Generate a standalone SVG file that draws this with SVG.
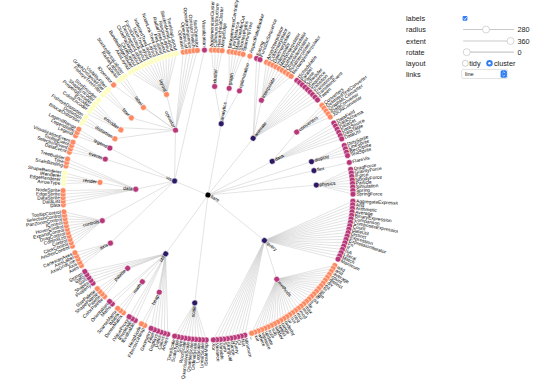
<svg xmlns="http://www.w3.org/2000/svg" xmlns:xlink="http://www.w3.org/1999/xlink" width="540" height="385" viewBox="0 0 540 385">
<style>
text{font-family:"Liberation Sans",Arial,Helvetica,sans-serif}
#nodes text{font-size:4.8px;dominant-baseline:central;fill:#000}
#nodes circle{stroke:#fff;stroke-width:0.5}
.d0{fill:#000004}.d1{fill:#2c1a66}.d2{fill:#b73779}.d3{fill:#fc8961}.d4{fill:#fcfdbf}
#links path,#links use{stroke:#ccc;stroke-width:0.5;fill:none}
.e{text-anchor:end}
#controls text{font-size:7.3px;fill:#222}
</style>
<defs>
<clipPath id="clip"><rect x="0" y="0" width="398" height="385"/></clipPath>
<path id="r1" d="M0 0H36.25"/>
<path id="r2" d="M0 0H72.5"/>
<path id="r3" d="M0 0H108.75"/>
<path id="p1" d="M108.75 0H145"/>
<path id="p2" d="M108.75 0L144.99-1.77M108.75 0L144.99 1.77"/>
<path id="p3" d="M108.75 0L144.96-3.54M108.75 0H145M108.75 0L144.96 3.54"/>
<path id="p4" d="M108.75 0L144.9-5.32M108.75 0L144.99-1.77M108.75 0L144.99 1.77M108.75 0L144.9 5.32"/>
<path id="p5" d="M108.75 0L144.83-7.09M108.75 0L144.96-3.54M108.75 0H145M108.75 0L144.96 3.54M108.75 0L144.83 7.09"/>
</defs>
<rect width="540" height="385" fill="#fff"/>
<g clip-path="url(#clip)">
<g transform="translate(208,195)">
<g id="links">
<use xlink:href="#r2" transform="rotate(-79.49)"/>
<use xlink:href="#r2" transform="rotate(-51.48)"/>
<use xlink:href="#r2" transform="rotate(-27.67)"/>
<use xlink:href="#r3" transform="rotate(-17.86)"/>
<use xlink:href="#r3" transform="rotate(-12.96)"/>
<use xlink:href="#r3" transform="rotate(-5.25)"/>
<use xlink:href="#r2" transform="rotate(38.87)"/>
<use xlink:href="#r3" transform="rotate(97)"/>
<use xlink:href="#r2" transform="rotate(125.72)"/>
<use xlink:href="#r1" transform="rotate(202.76)"/>
<path transform="rotate(-79.49)" d="M72.5 0L107.94-13.26M72.5 0L108.74 1.33M72.5 0L108.09 11.94"/>
<use xlink:href="#p4" transform="rotate(-86.5)"/>
<use xlink:href="#p5" transform="rotate(-78.79)"/>
<use xlink:href="#p1" transform="rotate(-73.19)"/>
<path transform="rotate(-51.48)" d="M72.5 0L137.17-46.99M72.5 0L138.28-43.62M72.5 0L107.38-17.21M72.5 0L144.99-1.77M72.5 0L144.99 1.77M72.5 0L144.9 5.32M72.5 0L144.73 8.86M72.5 0L144.47 12.39M72.5 0L144.12 15.92M72.5 0L143.69 19.44M72.5 0L143.17 22.95M72.5 0L142.57 26.44"/>
<path transform="rotate(-60.58)" d="M108.75 0L144.31-14.16M108.75 0L144.61-10.63M108.75 0L144.83-7.09M108.75 0L144.96-3.54M108.75 0H145M108.75 0L144.96 3.54M108.75 0L144.83 7.09M108.75 0L144.61 10.63M108.75 0L144.31 14.16"/>
<path transform="rotate(-27.67)" d="M72.5 0L107.77-14.58M72.5 0L144.9-5.32M72.5 0L144.99-1.77M72.5 0L144.99 1.77M72.5 0L144.9 5.32M72.5 0L144.73 8.86M72.5 0L144.47 12.39"/>
<use xlink:href="#p5" transform="rotate(-35.37)"/>
<use xlink:href="#p4" transform="rotate(-17.86)"/>
<use xlink:href="#p1" transform="rotate(-12.96)"/>
<path transform="rotate(-5.25)" d="M108.75 0L144.47-12.39M108.75 0L144.73-8.86M108.75 0L144.9-5.32M108.75 0L144.99-1.77M108.75 0L144.99 1.77M108.75 0L144.9 5.32M108.75 0L144.73 8.86M108.75 0L144.47 12.39"/>
<path transform="rotate(38.87)" d="M72.5 0L116.68-86.09M72.5 0L118.75-83.21M72.5 0L120.75-80.28M72.5 0L122.67-77.31M72.5 0L124.53-74.28M72.5 0L126.31-71.22M72.5 0L128.01-68.11M72.5 0L129.64-64.96M72.5 0L131.18-61.77M72.5 0L132.66-58.54M72.5 0L134.05-55.28M72.5 0L135.36-51.99M72.5 0L136.59-48.67M72.5 0L137.74-45.31M72.5 0L138.81-41.93M72.5 0L139.79-38.53M72.5 0L140.69-35.1M72.5 0L141.5-31.65M72.5 0L106.41 22.44M72.5 0L116.68 86.09M72.5 0L114.54 88.91M72.5 0L112.33 91.69M72.5 0L110.06 94.41M72.5 0L107.72 97.07M72.5 0L105.31 99.67M72.5 0L102.84 102.22M72.5 0L100.31 104.7M72.5 0L97.72 107.12M72.5 0L95.08 109.48"/>
<path transform="rotate(50.78)" d="M108.75 0L134.71-53.64M108.75 0L135.98-50.33M108.75 0L137.17-46.99M108.75 0L138.28-43.63M108.75 0L139.31-40.23M108.75 0L140.25-36.82M108.75 0L141.11-33.38M108.75 0L141.88-29.92M108.75 0L142.57-26.44M108.75 0L143.17-22.95M108.75 0L143.69-19.44M108.75 0L144.12-15.92M108.75 0L144.47-12.39M108.75 0L144.73-8.86M108.75 0L144.9-5.32M108.75 0L144.99-1.77M108.75 0L144.99 1.77M108.75 0L144.9 5.32M108.75 0L144.73 8.86M108.75 0L144.47 12.39M108.75 0L144.12 15.92M108.75 0L143.69 19.44M108.75 0L143.17 22.95M108.75 0L142.57 26.44M108.75 0L141.88 29.92M108.75 0L141.11 33.38M108.75 0L140.25 36.82M108.75 0L139.31 40.23M108.75 0L138.28 43.63M108.75 0L137.17 46.99M108.75 0L135.98 50.33M108.75 0L134.71 53.64"/>
<path transform="rotate(97)" d="M108.75 0L144.12-15.92M108.75 0L144.47-12.39M108.75 0L144.73-8.86M108.75 0L144.9-5.32M108.75 0L144.99-1.77M108.75 0L144.99 1.77M108.75 0L144.9 5.32M108.75 0L144.73 8.86M108.75 0L144.47 12.39M108.75 0L144.12 15.92"/>
<path transform="rotate(125.72)" d="M72.5 0L136.59-48.67M72.5 0L137.74-45.31M72.5 0L138.81-41.93M72.5 0L139.79-38.53M72.5 0L140.69-35.1M72.5 0L141.5-31.65M72.5 0L107.38-17.21M72.5 0L144.31-14.16M72.5 0L144.61-10.63M72.5 0L144.83-7.09M72.5 0L108.72 2.66M72.5 0L144.31 14.16M72.5 0L143.92 17.68M72.5 0L106.41 22.44M72.5 0L138.81 41.93M72.5 0L137.74 45.31M72.5 0L136.59 48.67M72.5 0L135.36 51.99M72.5 0L134.05 55.28"/>
<use xlink:href="#p2" transform="rotate(116.61)"/>
<use xlink:href="#p3" transform="rotate(127.12)"/>
<use xlink:href="#p4" transform="rotate(137.63)"/>
<path transform="rotate(202.76)" d="M36.25 0L71.31-82.11M36.25 0L87.51-64.57M36.25 0L68.87-22.66M36.25 0L108.55-6.64M36.25 0L108.62 5.32M36.25 0L55.03 47.2M36.25 0L59.35 132.3"/>
<use xlink:href="#p5" transform="rotate(153.74)"/>
<path transform="rotate(166.34)" d="M108.75 0L143.92-17.68M108.75 0L144.31-14.16M108.75 0L144.61-10.63M108.75 0L144.83-7.09M108.75 0L144.96-3.54M108.75 0H145M108.75 0L144.96 3.54M108.75 0L144.83 7.09M108.75 0L144.61 10.63M108.75 0L144.31 14.16M108.75 0L143.92 17.68"/>
<path transform="rotate(184.55)" d="M72.5 0L143.44-21.19M72.5 0L143.92-17.68M72.5 0L144.31-14.16M72.5 0L144.61-10.63M72.5 0L144.83-7.09M72.5 0L108.68 3.99M72.5 0L143.92 17.68M72.5 0L143.44 21.19M72.5 0L142.88 24.69"/>
<use xlink:href="#p4" transform="rotate(186.65)"/>
<use xlink:href="#p4" transform="rotate(199.26)"/>
<use xlink:href="#p3" transform="rotate(205.56)"/>
<path transform="rotate(243.39)" d="M72.5 0L92.01-57.98M72.5 0L98.39-46.33M72.5 0L103.3-33.98M72.5 0L140.69-35.1M72.5 0L107.16-18.52M72.5 0L108.46 7.97M72.5 0L138.81 41.93M72.5 0L137.74 45.31M72.5 0L136.59 48.67M72.5 0L135.36 51.99M72.5 0L134.05 55.28"/>
<use xlink:href="#p3" transform="rotate(211.17)"/>
<use xlink:href="#p5" transform="rotate(216.77)"/>
<use xlink:href="#p3" transform="rotate(225.18)"/>
<use xlink:href="#p3" transform="rotate(233.58)"/>
<path transform="rotate(247.59)" d="M108.75 0L142.88-24.69M108.75 0L143.44-21.19M108.75 0L143.92-17.68M108.75 0L144.31-14.16M108.75 0L144.61-10.63M108.75 0L144.83-7.09M108.75 0L144.96-3.54M108.75 0H145M108.75 0L144.96 3.54M108.75 0L144.83 7.09M108.75 0L144.61 10.63M108.75 0L144.31 14.16M108.75 0L143.92 17.68M108.75 0L143.44 21.19M108.75 0L142.88 24.69"/>
</g>
<g id="nodes">
<g id="n-flare" transform="rotate(27.02)"><circle class="d0" r="2.9"/><text x="3.2">flare</text></g>
<g id="n-analytics" transform="rotate(-79.49)"><circle class="d1" cx="72.5" r="2.9"/><text x="75.7">analytics</text></g>
<g id="n-cluster" transform="rotate(-86.5)"><circle class="d2" cx="108.75" r="2.9"/><text x="111.95">cluster</text></g>
<g id="n-AgglomerativeCluster" transform="rotate(-88.6)"><circle class="d3" cx="145" r="2.9"/><text x="148.2">AgglomerativeCluster</text></g>
<g id="n-CommunityStructure" transform="rotate(-87.2)"><circle class="d3" cx="145" r="2.9"/><text x="148.2">CommunityStructure</text></g>
<g id="n-HierarchicalCluster" transform="rotate(-85.8)"><circle class="d3" cx="145" r="2.9"/><text x="148.2">HierarchicalCluster</text></g>
<g id="n-MergeEdge" transform="rotate(-84.4)"><circle class="d3" cx="145" r="2.9"/><text x="148.2">MergeEdge</text></g>
<g id="n-graph" transform="rotate(-78.79)"><circle class="d2" cx="108.75" r="2.9"/><text x="111.95">graph</text></g>
<g id="n-BetweennessCentrality" transform="rotate(-81.6)"><circle class="d3" cx="145" r="2.9"/><text x="148.2">BetweennessCentrality</text></g>
<g id="n-LinkDistance" transform="rotate(-80.19)"><circle class="d3" cx="145" r="2.9"/><text x="148.2">LinkDistance</text></g>
<g id="n-MaxFlowMinCut" transform="rotate(-78.79)"><circle class="d3" cx="145" r="2.9"/><text x="148.2">MaxFlowMinCut</text></g>
<g id="n-ShortestPaths" transform="rotate(-77.39)"><circle class="d3" cx="145" r="2.9"/><text x="148.2">ShortestPaths</text></g>
<g id="n-SpanningTree" transform="rotate(-75.99)"><circle class="d3" cx="145" r="2.9"/><text x="148.2">SpanningTree</text></g>
<g id="n-optimization" transform="rotate(-73.19)"><circle class="d2" cx="108.75" r="2.9"/><text x="111.95">optimization</text></g>
<g id="n-AspectRatioBanker" transform="rotate(-73.19)"><circle class="d3" cx="145" r="2.9"/><text x="148.2">AspectRatioBanker</text></g>
<g id="n-animate" transform="rotate(-51.48)"><circle class="d1" cx="72.5" r="2.9"/><text x="75.7">animate</text></g>
<g id="n-Easing" transform="rotate(-70.39)"><circle class="d2" cx="145" r="2.9"/><text x="148.2">Easing</text></g>
<g id="n-FunctionSequence" transform="rotate(-68.99)"><circle class="d2" cx="145" r="2.9"/><text x="148.2">FunctionSequence</text></g>
<g id="n-interpolate" transform="rotate(-60.58)"><circle class="d2" cx="108.75" r="2.9"/><text x="111.95">interpolate</text></g>
<g id="n-ArrayInterpolator" transform="rotate(-66.19)"><circle class="d3" cx="145" r="2.9"/><text x="148.2">ArrayInterpolator</text></g>
<g id="n-ColorInterpolator" transform="rotate(-64.79)"><circle class="d3" cx="145" r="2.9"/><text x="148.2">ColorInterpolator</text></g>
<g id="n-DateInterpolator" transform="rotate(-63.39)"><circle class="d3" cx="145" r="2.9"/><text x="148.2">DateInterpolator</text></g>
<g id="n-Interpolator" transform="rotate(-61.98)"><circle class="d3" cx="145" r="2.9"/><text x="148.2">Interpolator</text></g>
<g id="n-MatrixInterpolator" transform="rotate(-60.58)"><circle class="d3" cx="145" r="2.9"/><text x="148.2">MatrixInterpolator</text></g>
<g id="n-NumberInterpolator" transform="rotate(-59.18)"><circle class="d3" cx="145" r="2.9"/><text x="148.2">NumberInterpolator</text></g>
<g id="n-ObjectInterpolator" transform="rotate(-57.78)"><circle class="d3" cx="145" r="2.9"/><text x="148.2">ObjectInterpolator</text></g>
<g id="n-PointInterpolator" transform="rotate(-56.38)"><circle class="d3" cx="145" r="2.9"/><text x="148.2">PointInterpolator</text></g>
<g id="n-RectangleInterpolator" transform="rotate(-54.98)"><circle class="d3" cx="145" r="2.9"/><text x="148.2">RectangleInterpolator</text></g>
<g id="n-ISchedulable" transform="rotate(-52.18)"><circle class="d2" cx="145" r="2.9"/><text x="148.2">ISchedulable</text></g>
<g id="n-Parallel" transform="rotate(-50.78)"><circle class="d2" cx="145" r="2.9"/><text x="148.2">Parallel</text></g>
<g id="n-Pause" transform="rotate(-49.38)"><circle class="d2" cx="145" r="2.9"/><text x="148.2">Pause</text></g>
<g id="n-Scheduler" transform="rotate(-47.98)"><circle class="d2" cx="145" r="2.9"/><text x="148.2">Scheduler</text></g>
<g id="n-Sequence" transform="rotate(-46.58)"><circle class="d2" cx="145" r="2.9"/><text x="148.2">Sequence</text></g>
<g id="n-Transition" transform="rotate(-45.18)"><circle class="d2" cx="145" r="2.9"/><text x="148.2">Transition</text></g>
<g id="n-Transitioner" transform="rotate(-43.77)"><circle class="d2" cx="145" r="2.9"/><text x="148.2">Transitioner</text></g>
<g id="n-TransitionEvent" transform="rotate(-42.37)"><circle class="d2" cx="145" r="2.9"/><text x="148.2">TransitionEvent</text></g>
<g id="n-Tween" transform="rotate(-40.97)"><circle class="d2" cx="145" r="2.9"/><text x="148.2">Tween</text></g>
<g id="n-data" transform="rotate(-27.67)"><circle class="d1" cx="72.5" r="2.9"/><text x="75.7">data</text></g>
<g id="n-converters" transform="rotate(-35.37)"><circle class="d2" cx="108.75" r="2.9"/><text x="111.95">converters</text></g>
<g id="n-Converters" transform="rotate(-38.17)"><circle class="d3" cx="145" r="2.9"/><text x="148.2">Converters</text></g>
<g id="n-DelimitedTextConverter" transform="rotate(-36.77)"><circle class="d3" cx="145" r="2.9"/><text x="148.2">DelimitedTextConverter</text></g>
<g id="n-GraphMLConverter" transform="rotate(-35.37)"><circle class="d3" cx="145" r="2.9"/><text x="148.2">GraphMLConverter</text></g>
<g id="n-IDataConverter" transform="rotate(-33.97)"><circle class="d3" cx="145" r="2.9"/><text x="148.2">IDataConverter</text></g>
<g id="n-JSONConverter" transform="rotate(-32.57)"><circle class="d3" cx="145" r="2.9"/><text x="148.2">JSONConverter</text></g>
<g id="n-DataField" transform="rotate(-29.77)"><circle class="d2" cx="145" r="2.9"/><text x="148.2">DataField</text></g>
<g id="n-DataSchema" transform="rotate(-28.37)"><circle class="d2" cx="145" r="2.9"/><text x="148.2">DataSchema</text></g>
<g id="n-DataSet" transform="rotate(-26.96)"><circle class="d2" cx="145" r="2.9"/><text x="148.2">DataSet</text></g>
<g id="n-DataSource" transform="rotate(-25.56)"><circle class="d2" cx="145" r="2.9"/><text x="148.2">DataSource</text></g>
<g id="n-DataTable" transform="rotate(-24.16)"><circle class="d2" cx="145" r="2.9"/><text x="148.2">DataTable</text></g>
<g id="n-DataUtil" transform="rotate(-22.76)"><circle class="d2" cx="145" r="2.9"/><text x="148.2">DataUtil</text></g>
<g id="n-display" transform="rotate(-17.86)"><circle class="d1" cx="108.75" r="2.9"/><text x="111.95">display</text></g>
<g id="n-DirtySprite" transform="rotate(-19.96)"><circle class="d2" cx="145" r="2.9"/><text x="148.2">DirtySprite</text></g>
<g id="n-LineSprite" transform="rotate(-18.56)"><circle class="d2" cx="145" r="2.9"/><text x="148.2">LineSprite</text></g>
<g id="n-RectSprite" transform="rotate(-17.16)"><circle class="d2" cx="145" r="2.9"/><text x="148.2">RectSprite</text></g>
<g id="n-TextSprite" transform="rotate(-15.76)"><circle class="d2" cx="145" r="2.9"/><text x="148.2">TextSprite</text></g>
<g id="n-flex" transform="rotate(-12.96)"><circle class="d1" cx="108.75" r="2.9"/><text x="111.95">flex</text></g>
<g id="n-FlareVis" transform="rotate(-12.96)"><circle class="d2" cx="145" r="2.9"/><text x="148.2">FlareVis</text></g>
<g id="n-physics" transform="rotate(-5.25)"><circle class="d1" cx="108.75" r="2.9"/><text x="111.95">physics</text></g>
<g id="n-DragForce" transform="rotate(-10.16)"><circle class="d2" cx="145" r="2.9"/><text x="148.2">DragForce</text></g>
<g id="n-GravityForce" transform="rotate(-8.75)"><circle class="d2" cx="145" r="2.9"/><text x="148.2">GravityForce</text></g>
<g id="n-IForce" transform="rotate(-7.35)"><circle class="d2" cx="145" r="2.9"/><text x="148.2">IForce</text></g>
<g id="n-NBodyForce" transform="rotate(-5.95)"><circle class="d2" cx="145" r="2.9"/><text x="148.2">NBodyForce</text></g>
<g id="n-Particle" transform="rotate(-4.55)"><circle class="d2" cx="145" r="2.9"/><text x="148.2">Particle</text></g>
<g id="n-Simulation" transform="rotate(-3.15)"><circle class="d2" cx="145" r="2.9"/><text x="148.2">Simulation</text></g>
<g id="n-Spring" transform="rotate(-1.75)"><circle class="d2" cx="145" r="2.9"/><text x="148.2">Spring</text></g>
<g id="n-SpringForce" transform="rotate(-0.35)"><circle class="d2" cx="145" r="2.9"/><text x="148.2">SpringForce</text></g>
<g id="n-query" transform="rotate(38.87)"><circle class="d1" cx="72.5" r="2.9"/><text x="75.7">query</text></g>
<g id="n-AggregateExpression" transform="rotate(2.45)"><circle class="d2" cx="145" r="2.9"/><text x="148.2">AggregateExpression</text></g>
<g id="n-And" transform="rotate(3.85)"><circle class="d2" cx="145" r="2.9"/><text x="148.2">And</text></g>
<g id="n-Arithmetic" transform="rotate(5.25)"><circle class="d2" cx="145" r="2.9"/><text x="148.2">Arithmetic</text></g>
<g id="n-Average" transform="rotate(6.65)"><circle class="d2" cx="145" r="2.9"/><text x="148.2">Average</text></g>
<g id="n-BinaryExpression" transform="rotate(8.05)"><circle class="d2" cx="145" r="2.9"/><text x="148.2">BinaryExpression</text></g>
<g id="n-Comparison" transform="rotate(9.46)"><circle class="d2" cx="145" r="2.9"/><text x="148.2">Comparison</text></g>
<g id="n-CompositeExpression" transform="rotate(10.86)"><circle class="d2" cx="145" r="2.9"/><text x="148.2">CompositeExpression</text></g>
<g id="n-Count" transform="rotate(12.26)"><circle class="d2" cx="145" r="2.9"/><text x="148.2">Count</text></g>
<g id="n-DateUtil" transform="rotate(13.66)"><circle class="d2" cx="145" r="2.9"/><text x="148.2">DateUtil</text></g>
<g id="n-Distinct" transform="rotate(15.06)"><circle class="d2" cx="145" r="2.9"/><text x="148.2">Distinct</text></g>
<g id="n-Expression" transform="rotate(16.46)"><circle class="d2" cx="145" r="2.9"/><text x="148.2">Expression</text></g>
<g id="n-ExpressionIterator" transform="rotate(17.86)"><circle class="d2" cx="145" r="2.9"/><text x="148.2">ExpressionIterator</text></g>
<g id="n-Fn" transform="rotate(19.26)"><circle class="d2" cx="145" r="2.9"/><text x="148.2">Fn</text></g>
<g id="n-If" transform="rotate(20.66)"><circle class="d2" cx="145" r="2.9"/><text x="148.2">If</text></g>
<g id="n-IsA" transform="rotate(22.06)"><circle class="d2" cx="145" r="2.9"/><text x="148.2">IsA</text></g>
<g id="n-Literal" transform="rotate(23.46)"><circle class="d2" cx="145" r="2.9"/><text x="148.2">Literal</text></g>
<g id="n-Match" transform="rotate(24.86)"><circle class="d2" cx="145" r="2.9"/><text x="148.2">Match</text></g>
<g id="n-Maximum" transform="rotate(26.26)"><circle class="d2" cx="145" r="2.9"/><text x="148.2">Maximum</text></g>
<g id="n-methods" transform="rotate(50.78)"><circle class="d2" cx="108.75" r="2.9"/><text x="111.95">methods</text></g>
<g id="n-m-add" transform="rotate(29.07)"><circle class="d3" cx="145" r="2.9"/><text x="148.2">add</text></g>
<g id="n-m-and" transform="rotate(30.47)"><circle class="d3" cx="145" r="2.9"/><text x="148.2">and</text></g>
<g id="n-m-average" transform="rotate(31.87)"><circle class="d3" cx="145" r="2.9"/><text x="148.2">average</text></g>
<g id="n-m-count" transform="rotate(33.27)"><circle class="d3" cx="145" r="2.9"/><text x="148.2">count</text></g>
<g id="n-m-distinct" transform="rotate(34.67)"><circle class="d3" cx="145" r="2.9"/><text x="148.2">distinct</text></g>
<g id="n-m-div" transform="rotate(36.07)"><circle class="d3" cx="145" r="2.9"/><text x="148.2">div</text></g>
<g id="n-m-eq" transform="rotate(37.47)"><circle class="d3" cx="145" r="2.9"/><text x="148.2">eq</text></g>
<g id="n-m-fn" transform="rotate(38.87)"><circle class="d3" cx="145" r="2.9"/><text x="148.2">fn</text></g>
<g id="n-m-gt" transform="rotate(40.27)"><circle class="d3" cx="145" r="2.9"/><text x="148.2">gt</text></g>
<g id="n-m-gte" transform="rotate(41.67)"><circle class="d3" cx="145" r="2.9"/><text x="148.2">gte</text></g>
<g id="n-m-iff" transform="rotate(43.07)"><circle class="d3" cx="145" r="2.9"/><text x="148.2">iff</text></g>
<g id="n-m-isa" transform="rotate(44.47)"><circle class="d3" cx="145" r="2.9"/><text x="148.2">isa</text></g>
<g id="n-m-lt" transform="rotate(45.88)"><circle class="d3" cx="145" r="2.9"/><text x="148.2">lt</text></g>
<g id="n-m-lte" transform="rotate(47.28)"><circle class="d3" cx="145" r="2.9"/><text x="148.2">lte</text></g>
<g id="n-m-max" transform="rotate(48.68)"><circle class="d3" cx="145" r="2.9"/><text x="148.2">max</text></g>
<g id="n-m-min" transform="rotate(50.08)"><circle class="d3" cx="145" r="2.9"/><text x="148.2">min</text></g>
<g id="n-m-mod" transform="rotate(51.48)"><circle class="d3" cx="145" r="2.9"/><text x="148.2">mod</text></g>
<g id="n-m-mul" transform="rotate(52.88)"><circle class="d3" cx="145" r="2.9"/><text x="148.2">mul</text></g>
<g id="n-m-neq" transform="rotate(54.28)"><circle class="d3" cx="145" r="2.9"/><text x="148.2">neq</text></g>
<g id="n-m-not" transform="rotate(55.68)"><circle class="d3" cx="145" r="2.9"/><text x="148.2">not</text></g>
<g id="n-m-or" transform="rotate(57.08)"><circle class="d3" cx="145" r="2.9"/><text x="148.2">or</text></g>
<g id="n-m-orderby" transform="rotate(58.48)"><circle class="d3" cx="145" r="2.9"/><text x="148.2">orderby</text></g>
<g id="n-m-range" transform="rotate(59.88)"><circle class="d3" cx="145" r="2.9"/><text x="148.2">range</text></g>
<g id="n-m-select" transform="rotate(61.28)"><circle class="d3" cx="145" r="2.9"/><text x="148.2">select</text></g>
<g id="n-m-stddev" transform="rotate(62.68)"><circle class="d3" cx="145" r="2.9"/><text x="148.2">stddev</text></g>
<g id="n-m-sub" transform="rotate(64.09)"><circle class="d3" cx="145" r="2.9"/><text x="148.2">sub</text></g>
<g id="n-m-sum" transform="rotate(65.49)"><circle class="d3" cx="145" r="2.9"/><text x="148.2">sum</text></g>
<g id="n-m-update" transform="rotate(66.89)"><circle class="d3" cx="145" r="2.9"/><text x="148.2">update</text></g>
<g id="n-m-variance" transform="rotate(68.29)"><circle class="d3" cx="145" r="2.9"/><text x="148.2">variance</text></g>
<g id="n-m-where" transform="rotate(69.69)"><circle class="d3" cx="145" r="2.9"/><text x="148.2">where</text></g>
<g id="n-m-xor" transform="rotate(71.09)"><circle class="d3" cx="145" r="2.9"/><text x="148.2">xor</text></g>
<g id="n-m-_" transform="rotate(72.49)"><circle class="d3" cx="145" r="2.9"/><text x="148.2">_</text></g>
<g id="n-Minimum" transform="rotate(75.29)"><circle class="d2" cx="145" r="2.9"/><text x="148.2">Minimum</text></g>
<g id="n-Not" transform="rotate(76.69)"><circle class="d2" cx="145" r="2.9"/><text x="148.2">Not</text></g>
<g id="n-Or" transform="rotate(78.09)"><circle class="d2" cx="145" r="2.9"/><text x="148.2">Or</text></g>
<g id="n-Query" transform="rotate(79.49)"><circle class="d2" cx="145" r="2.9"/><text x="148.2">Query</text></g>
<g id="n-Range" transform="rotate(80.89)"><circle class="d2" cx="145" r="2.9"/><text x="148.2">Range</text></g>
<g id="n-StringUtil" transform="rotate(82.3)"><circle class="d2" cx="145" r="2.9"/><text x="148.2">StringUtil</text></g>
<g id="n-Sum" transform="rotate(83.7)"><circle class="d2" cx="145" r="2.9"/><text x="148.2">Sum</text></g>
<g id="n-Variable" transform="rotate(85.1)"><circle class="d2" cx="145" r="2.9"/><text x="148.2">Variable</text></g>
<g id="n-Variance" transform="rotate(86.5)"><circle class="d2" cx="145" r="2.9"/><text x="148.2">Variance</text></g>
<g id="n-Xor" transform="rotate(87.9)"><circle class="d2" cx="145" r="2.9"/><text x="148.2">Xor</text></g>
<g id="n-scale" transform="rotate(97)"><circle class="d1" cx="108.75" r="2.9"/><text class="e" transform="rotate(180)" x="-111.95">scale</text></g>
<g id="n-IScaleMap" transform="rotate(90.7)"><circle class="d2" cx="145" r="2.9"/><text class="e" transform="rotate(180)" x="-148.2">IScaleMap</text></g>
<g id="n-LinearScale" transform="rotate(92.1)"><circle class="d2" cx="145" r="2.9"/><text class="e" transform="rotate(180)" x="-148.2">LinearScale</text></g>
<g id="n-LogScale" transform="rotate(93.5)"><circle class="d2" cx="145" r="2.9"/><text class="e" transform="rotate(180)" x="-148.2">LogScale</text></g>
<g id="n-OrdinalScale" transform="rotate(94.9)"><circle class="d2" cx="145" r="2.9"/><text class="e" transform="rotate(180)" x="-148.2">OrdinalScale</text></g>
<g id="n-QuantileScale" transform="rotate(96.3)"><circle class="d2" cx="145" r="2.9"/><text class="e" transform="rotate(180)" x="-148.2">QuantileScale</text></g>
<g id="n-QuantitativeScale" transform="rotate(97.7)"><circle class="d2" cx="145" r="2.9"/><text class="e" transform="rotate(180)" x="-148.2">QuantitativeScale</text></g>
<g id="n-RootScale" transform="rotate(99.11)"><circle class="d2" cx="145" r="2.9"/><text class="e" transform="rotate(180)" x="-148.2">RootScale</text></g>
<g id="n-Scale" transform="rotate(100.51)"><circle class="d2" cx="145" r="2.9"/><text class="e" transform="rotate(180)" x="-148.2">Scale</text></g>
<g id="n-ScaleType" transform="rotate(101.91)"><circle class="d2" cx="145" r="2.9"/><text class="e" transform="rotate(180)" x="-148.2">ScaleType</text></g>
<g id="n-TimeScale" transform="rotate(103.31)"><circle class="d2" cx="145" r="2.9"/><text class="e" transform="rotate(180)" x="-148.2">TimeScale</text></g>
<g id="n-util" transform="rotate(125.72)"><circle class="d1" cx="72.5" r="2.9"/><text class="e" transform="rotate(180)" x="-75.7">util</text></g>
<g id="n-Arrays" transform="rotate(106.11)"><circle class="d2" cx="145" r="2.9"/><text class="e" transform="rotate(180)" x="-148.2">Arrays</text></g>
<g id="n-Colors" transform="rotate(107.51)"><circle class="d2" cx="145" r="2.9"/><text class="e" transform="rotate(180)" x="-148.2">Colors</text></g>
<g id="n-Dates" transform="rotate(108.91)"><circle class="d2" cx="145" r="2.9"/><text class="e" transform="rotate(180)" x="-148.2">Dates</text></g>
<g id="n-Displays" transform="rotate(110.31)"><circle class="d2" cx="145" r="2.9"/><text class="e" transform="rotate(180)" x="-148.2">Displays</text></g>
<g id="n-Filter" transform="rotate(111.71)"><circle class="d2" cx="145" r="2.9"/><text class="e" transform="rotate(180)" x="-148.2">Filter</text></g>
<g id="n-Geometry" transform="rotate(113.11)"><circle class="d2" cx="145" r="2.9"/><text class="e" transform="rotate(180)" x="-148.2">Geometry</text></g>
<g id="n-heap" transform="rotate(116.61)"><circle class="d2" cx="108.75" r="2.9"/><text class="e" transform="rotate(180)" x="-111.95">heap</text></g>
<g id="n-FibonacciHeap" transform="rotate(115.91)"><circle class="d3" cx="145" r="2.9"/><text class="e" transform="rotate(180)" x="-148.2">FibonacciHeap</text></g>
<g id="n-HeapNode" transform="rotate(117.32)"><circle class="d3" cx="145" r="2.9"/><text class="e" transform="rotate(180)" x="-148.2">HeapNode</text></g>
<g id="n-IEvaluable" transform="rotate(120.12)"><circle class="d2" cx="145" r="2.9"/><text class="e" transform="rotate(180)" x="-148.2">IEvaluable</text></g>
<g id="n-IPredicate" transform="rotate(121.52)"><circle class="d2" cx="145" r="2.9"/><text class="e" transform="rotate(180)" x="-148.2">IPredicate</text></g>
<g id="n-IValueProxy" transform="rotate(122.92)"><circle class="d2" cx="145" r="2.9"/><text class="e" transform="rotate(180)" x="-148.2">IValueProxy</text></g>
<g id="n-math" transform="rotate(127.12)"><circle class="d2" cx="108.75" r="2.9"/><text class="e" transform="rotate(180)" x="-111.95">math</text></g>
<g id="n-DenseMatrix" transform="rotate(125.72)"><circle class="d3" cx="145" r="2.9"/><text class="e" transform="rotate(180)" x="-148.2">DenseMatrix</text></g>
<g id="n-IMatrix" transform="rotate(127.12)"><circle class="d3" cx="145" r="2.9"/><text class="e" transform="rotate(180)" x="-148.2">IMatrix</text></g>
<g id="n-SparseMatrix" transform="rotate(128.52)"><circle class="d3" cx="145" r="2.9"/><text class="e" transform="rotate(180)" x="-148.2">SparseMatrix</text></g>
<g id="n-Maths" transform="rotate(131.32)"><circle class="d2" cx="145" r="2.9"/><text class="e" transform="rotate(180)" x="-148.2">Maths</text></g>
<g id="n-Orientation" transform="rotate(132.72)"><circle class="d2" cx="145" r="2.9"/><text class="e" transform="rotate(180)" x="-148.2">Orientation</text></g>
<g id="n-palette" transform="rotate(137.63)"><circle class="d2" cx="108.75" r="2.9"/><text class="e" transform="rotate(180)" x="-111.95">palette</text></g>
<g id="n-ColorPalette" transform="rotate(135.53)"><circle class="d3" cx="145" r="2.9"/><text class="e" transform="rotate(180)" x="-148.2">ColorPalette</text></g>
<g id="n-Palette" transform="rotate(136.93)"><circle class="d3" cx="145" r="2.9"/><text class="e" transform="rotate(180)" x="-148.2">Palette</text></g>
<g id="n-ShapePalette" transform="rotate(138.33)"><circle class="d3" cx="145" r="2.9"/><text class="e" transform="rotate(180)" x="-148.2">ShapePalette</text></g>
<g id="n-SizePalette" transform="rotate(139.73)"><circle class="d3" cx="145" r="2.9"/><text class="e" transform="rotate(180)" x="-148.2">SizePalette</text></g>
<g id="n-Property" transform="rotate(142.53)"><circle class="d2" cx="145" r="2.9"/><text class="e" transform="rotate(180)" x="-148.2">Property</text></g>
<g id="n-Shapes" transform="rotate(143.93)"><circle class="d2" cx="145" r="2.9"/><text class="e" transform="rotate(180)" x="-148.2">Shapes</text></g>
<g id="n-Sort" transform="rotate(145.33)"><circle class="d2" cx="145" r="2.9"/><text class="e" transform="rotate(180)" x="-148.2">Sort</text></g>
<g id="n-Stats" transform="rotate(146.73)"><circle class="d2" cx="145" r="2.9"/><text class="e" transform="rotate(180)" x="-148.2">Stats</text></g>
<g id="n-Strings" transform="rotate(148.13)"><circle class="d2" cx="145" r="2.9"/><text class="e" transform="rotate(180)" x="-148.2">Strings</text></g>
<g id="n-vis" transform="rotate(202.76)"><circle class="d1" cx="36.25" r="2.9"/><text class="e" transform="rotate(180)" x="-39.45">vis</text></g>
<g id="n-axis" transform="rotate(153.74)"><circle class="d2" cx="108.75" r="2.9"/><text class="e" transform="rotate(180)" x="-111.95">axis</text></g>
<g id="n-Axes" transform="rotate(150.93)"><circle class="d3" cx="145" r="2.9"/><text class="e" transform="rotate(180)" x="-148.2">Axes</text></g>
<g id="n-Axis" transform="rotate(152.33)"><circle class="d3" cx="145" r="2.9"/><text class="e" transform="rotate(180)" x="-148.2">Axis</text></g>
<g id="n-AxisGridLine" transform="rotate(153.74)"><circle class="d3" cx="145" r="2.9"/><text class="e" transform="rotate(180)" x="-148.2">AxisGridLine</text></g>
<g id="n-AxisLabel" transform="rotate(155.14)"><circle class="d3" cx="145" r="2.9"/><text class="e" transform="rotate(180)" x="-148.2">AxisLabel</text></g>
<g id="n-CartesianAxes" transform="rotate(156.54)"><circle class="d3" cx="145" r="2.9"/><text class="e" transform="rotate(180)" x="-148.2">CartesianAxes</text></g>
<g id="n-controls" transform="rotate(166.34)"><circle class="d2" cx="108.75" r="2.9"/><text class="e" transform="rotate(180)" x="-111.95">controls</text></g>
<g id="n-AnchorControl" transform="rotate(159.34)"><circle class="d3" cx="145" r="2.9"/><text class="e" transform="rotate(180)" x="-148.2">AnchorControl</text></g>
<g id="n-ClickControl" transform="rotate(160.74)"><circle class="d3" cx="145" r="2.9"/><text class="e" transform="rotate(180)" x="-148.2">ClickControl</text></g>
<g id="n-Control" transform="rotate(162.14)"><circle class="d3" cx="145" r="2.9"/><text class="e" transform="rotate(180)" x="-148.2">Control</text></g>
<g id="n-ControlList" transform="rotate(163.54)"><circle class="d3" cx="145" r="2.9"/><text class="e" transform="rotate(180)" x="-148.2">ControlList</text></g>
<g id="n-DragControl" transform="rotate(164.94)"><circle class="d3" cx="145" r="2.9"/><text class="e" transform="rotate(180)" x="-148.2">DragControl</text></g>
<g id="n-ExpandControl" transform="rotate(166.34)"><circle class="d3" cx="145" r="2.9"/><text class="e" transform="rotate(180)" x="-148.2">ExpandControl</text></g>
<g id="n-HoverControl" transform="rotate(167.74)"><circle class="d3" cx="145" r="2.9"/><text class="e" transform="rotate(180)" x="-148.2">HoverControl</text></g>
<g id="n-IControl" transform="rotate(169.14)"><circle class="d3" cx="145" r="2.9"/><text class="e" transform="rotate(180)" x="-148.2">IControl</text></g>
<g id="n-PanZoomControl" transform="rotate(170.54)"><circle class="d3" cx="145" r="2.9"/><text class="e" transform="rotate(180)" x="-148.2">PanZoomControl</text></g>
<g id="n-SelectionControl" transform="rotate(171.95)"><circle class="d3" cx="145" r="2.9"/><text class="e" transform="rotate(180)" x="-148.2">SelectionControl</text></g>
<g id="n-TooltipControl" transform="rotate(173.35)"><circle class="d3" cx="145" r="2.9"/><text class="e" transform="rotate(180)" x="-148.2">TooltipControl</text></g>
<g id="n-vis-data" transform="rotate(184.55)"><circle class="d2" cx="72.5" r="2.9"/><text class="e" transform="rotate(180)" x="-75.7">data</text></g>
<g id="n-Data" transform="rotate(176.15)"><circle class="d3" cx="145" r="2.9"/><text class="e" transform="rotate(180)" x="-148.2">Data</text></g>
<g id="n-DataList" transform="rotate(177.55)"><circle class="d3" cx="145" r="2.9"/><text class="e" transform="rotate(180)" x="-148.2">DataList</text></g>
<g id="n-DataSprite" transform="rotate(178.95)"><circle class="d3" cx="145" r="2.9"/><text class="e" transform="rotate(180)" x="-148.2">DataSprite</text></g>
<g id="n-EdgeSprite" transform="rotate(180.35)"><circle class="d3" cx="145" r="2.9"/><text class="e" transform="rotate(180)" x="-148.2">EdgeSprite</text></g>
<g id="n-NodeSprite" transform="rotate(181.75)"><circle class="d3" cx="145" r="2.9"/><text class="e" transform="rotate(180)" x="-148.2">NodeSprite</text></g>
<g id="n-render" transform="rotate(186.65)"><circle class="d3" cx="108.75" r="2.9"/><text class="e" transform="rotate(180)" x="-111.95">render</text></g>
<g id="n-ArrowType" transform="rotate(184.55)"><circle class="d4" cx="145" r="2.9"/><text class="e" transform="rotate(180)" x="-148.2">ArrowType</text></g>
<g id="n-EdgeRenderer" transform="rotate(185.95)"><circle class="d4" cx="145" r="2.9"/><text class="e" transform="rotate(180)" x="-148.2">EdgeRenderer</text></g>
<g id="n-IRenderer" transform="rotate(187.35)"><circle class="d4" cx="145" r="2.9"/><text class="e" transform="rotate(180)" x="-148.2">IRenderer</text></g>
<g id="n-ShapeRenderer" transform="rotate(188.75)"><circle class="d4" cx="145" r="2.9"/><text class="e" transform="rotate(180)" x="-148.2">ShapeRenderer</text></g>
<g id="n-ScaleBinding" transform="rotate(191.56)"><circle class="d3" cx="145" r="2.9"/><text class="e" transform="rotate(180)" x="-148.2">ScaleBinding</text></g>
<g id="n-Tree" transform="rotate(192.96)"><circle class="d3" cx="145" r="2.9"/><text class="e" transform="rotate(180)" x="-148.2">Tree</text></g>
<g id="n-TreeBuilder" transform="rotate(194.36)"><circle class="d3" cx="145" r="2.9"/><text class="e" transform="rotate(180)" x="-148.2">TreeBuilder</text></g>
<g id="n-events" transform="rotate(199.26)"><circle class="d2" cx="108.75" r="2.9"/><text class="e" transform="rotate(180)" x="-111.95">events</text></g>
<g id="n-DataEvent" transform="rotate(197.16)"><circle class="d3" cx="145" r="2.9"/><text class="e" transform="rotate(180)" x="-148.2">DataEvent</text></g>
<g id="n-SelectionEvent" transform="rotate(198.56)"><circle class="d3" cx="145" r="2.9"/><text class="e" transform="rotate(180)" x="-148.2">SelectionEvent</text></g>
<g id="n-TooltipEvent" transform="rotate(199.96)"><circle class="d3" cx="145" r="2.9"/><text class="e" transform="rotate(180)" x="-148.2">TooltipEvent</text></g>
<g id="n-VisualizationEvent" transform="rotate(201.36)"><circle class="d3" cx="145" r="2.9"/><text class="e" transform="rotate(180)" x="-148.2">VisualizationEvent</text></g>
<g id="n-legend" transform="rotate(205.56)"><circle class="d2" cx="108.75" r="2.9"/><text class="e" transform="rotate(180)" x="-111.95">legend</text></g>
<g id="n-Legend" transform="rotate(204.16)"><circle class="d3" cx="145" r="2.9"/><text class="e" transform="rotate(180)" x="-148.2">Legend</text></g>
<g id="n-LegendItem" transform="rotate(205.56)"><circle class="d3" cx="145" r="2.9"/><text class="e" transform="rotate(180)" x="-148.2">LegendItem</text></g>
<g id="n-LegendRange" transform="rotate(206.96)"><circle class="d3" cx="145" r="2.9"/><text class="e" transform="rotate(180)" x="-148.2">LegendRange</text></g>
<g id="n-operator" transform="rotate(243.39)"><circle class="d2" cx="72.5" r="2.9"/><text class="e" transform="rotate(180)" x="-75.7">operator</text></g>
<g id="n-distortion" transform="rotate(211.17)"><circle class="d3" cx="108.75" r="2.9"/><text class="e" transform="rotate(180)" x="-111.95">distortion</text></g>
<g id="n-BifocalDistortion" transform="rotate(209.77)"><circle class="d4" cx="145" r="2.9"/><text class="e" transform="rotate(180)" x="-148.2">BifocalDistortion</text></g>
<g id="n-Distortion" transform="rotate(211.17)"><circle class="d4" cx="145" r="2.9"/><text class="e" transform="rotate(180)" x="-148.2">Distortion</text></g>
<g id="n-FisheyeDistortion" transform="rotate(212.57)"><circle class="d4" cx="145" r="2.9"/><text class="e" transform="rotate(180)" x="-148.2">FisheyeDistortion</text></g>
<g id="n-encoder" transform="rotate(216.77)"><circle class="d3" cx="108.75" r="2.9"/><text class="e" transform="rotate(180)" x="-111.95">encoder</text></g>
<g id="n-ColorEncoder" transform="rotate(215.37)"><circle class="d4" cx="145" r="2.9"/><text class="e" transform="rotate(180)" x="-148.2">ColorEncoder</text></g>
<g id="n-Encoder" transform="rotate(216.77)"><circle class="d4" cx="145" r="2.9"/><text class="e" transform="rotate(180)" x="-148.2">Encoder</text></g>
<g id="n-PropertyEncoder" transform="rotate(218.17)"><circle class="d4" cx="145" r="2.9"/><text class="e" transform="rotate(180)" x="-148.2">PropertyEncoder</text></g>
<g id="n-ShapeEncoder" transform="rotate(219.57)"><circle class="d4" cx="145" r="2.9"/><text class="e" transform="rotate(180)" x="-148.2">ShapeEncoder</text></g>
<g id="n-SizeEncoder" transform="rotate(220.97)"><circle class="d4" cx="145" r="2.9"/><text class="e" transform="rotate(180)" x="-148.2">SizeEncoder</text></g>
<g id="n-filter" transform="rotate(225.18)"><circle class="d3" cx="108.75" r="2.9"/><text class="e" transform="rotate(180)" x="-111.95">filter</text></g>
<g id="n-FisheyeTreeFilter" transform="rotate(223.77)"><circle class="d4" cx="145" r="2.9"/><text class="e" transform="rotate(180)" x="-148.2">FisheyeTreeFilter</text></g>
<g id="n-GraphDistanceFilter" transform="rotate(225.18)"><circle class="d4" cx="145" r="2.9"/><text class="e" transform="rotate(180)" x="-148.2">GraphDistanceFilter</text></g>
<g id="n-VisibilityFilter" transform="rotate(226.58)"><circle class="d4" cx="145" r="2.9"/><text class="e" transform="rotate(180)" x="-148.2">VisibilityFilter</text></g>
<g id="n-IOperator" transform="rotate(229.38)"><circle class="d3" cx="145" r="2.9"/><text class="e" transform="rotate(180)" x="-148.2">IOperator</text></g>
<g id="n-label" transform="rotate(233.58)"><circle class="d3" cx="108.75" r="2.9"/><text class="e" transform="rotate(180)" x="-111.95">label</text></g>
<g id="n-Labeler" transform="rotate(232.18)"><circle class="d4" cx="145" r="2.9"/><text class="e" transform="rotate(180)" x="-148.2">Labeler</text></g>
<g id="n-RadialLabeler" transform="rotate(233.58)"><circle class="d4" cx="145" r="2.9"/><text class="e" transform="rotate(180)" x="-148.2">RadialLabeler</text></g>
<g id="n-StackedAreaLabeler" transform="rotate(234.98)"><circle class="d4" cx="145" r="2.9"/><text class="e" transform="rotate(180)" x="-148.2">StackedAreaLabeler</text></g>
<g id="n-layout" transform="rotate(247.59)"><circle class="d3" cx="108.75" r="2.9"/><text class="e" transform="rotate(180)" x="-111.95">layout</text></g>
<g id="n-AxisLayout" transform="rotate(237.78)"><circle class="d4" cx="145" r="2.9"/><text class="e" transform="rotate(180)" x="-148.2">AxisLayout</text></g>
<g id="n-BundledEdgeRouter" transform="rotate(239.18)"><circle class="d4" cx="145" r="2.9"/><text class="e" transform="rotate(180)" x="-148.2">BundledEdgeRouter</text></g>
<g id="n-CircleLayout" transform="rotate(240.58)"><circle class="d4" cx="145" r="2.9"/><text class="e" transform="rotate(180)" x="-148.2">CircleLayout</text></g>
<g id="n-CirclePackingLayout" transform="rotate(241.98)"><circle class="d4" cx="145" r="2.9"/><text class="e" transform="rotate(180)" x="-148.2">CirclePackingLayout</text></g>
<g id="n-DendrogramLayout" transform="rotate(243.39)"><circle class="d4" cx="145" r="2.9"/><text class="e" transform="rotate(180)" x="-148.2">DendrogramLayout</text></g>
<g id="n-ForceDirectedLayout" transform="rotate(244.79)"><circle class="d4" cx="145" r="2.9"/><text class="e" transform="rotate(180)" x="-148.2">ForceDirectedLayout</text></g>
<g id="n-IcicleTreeLayout" transform="rotate(246.19)"><circle class="d4" cx="145" r="2.9"/><text class="e" transform="rotate(180)" x="-148.2">IcicleTreeLayout</text></g>
<g id="n-IndentedTreeLayout" transform="rotate(247.59)"><circle class="d4" cx="145" r="2.9"/><text class="e" transform="rotate(180)" x="-148.2">IndentedTreeLayout</text></g>
<g id="n-Layout" transform="rotate(248.99)"><circle class="d4" cx="145" r="2.9"/><text class="e" transform="rotate(180)" x="-148.2">Layout</text></g>
<g id="n-NodeLinkTreeLayout" transform="rotate(250.39)"><circle class="d4" cx="145" r="2.9"/><text class="e" transform="rotate(180)" x="-148.2">NodeLinkTreeLayout</text></g>
<g id="n-PieLayout" transform="rotate(251.79)"><circle class="d4" cx="145" r="2.9"/><text class="e" transform="rotate(180)" x="-148.2">PieLayout</text></g>
<g id="n-RadialTreeLayout" transform="rotate(253.19)"><circle class="d4" cx="145" r="2.9"/><text class="e" transform="rotate(180)" x="-148.2">RadialTreeLayout</text></g>
<g id="n-RandomLayout" transform="rotate(254.59)"><circle class="d4" cx="145" r="2.9"/><text class="e" transform="rotate(180)" x="-148.2">RandomLayout</text></g>
<g id="n-StackedAreaLayout" transform="rotate(255.99)"><circle class="d4" cx="145" r="2.9"/><text class="e" transform="rotate(180)" x="-148.2">StackedAreaLayout</text></g>
<g id="n-TreeMapLayout" transform="rotate(257.39)"><circle class="d4" cx="145" r="2.9"/><text class="e" transform="rotate(180)" x="-148.2">TreeMapLayout</text></g>
<g id="n-Operator" transform="rotate(260.19)"><circle class="d3" cx="145" r="2.9"/><text class="e" transform="rotate(180)" x="-148.2">Operator</text></g>
<g id="n-OperatorList" transform="rotate(261.6)"><circle class="d3" cx="145" r="2.9"/><text class="e" transform="rotate(180)" x="-148.2">OperatorList</text></g>
<g id="n-OperatorSequence" transform="rotate(263)"><circle class="d3" cx="145" r="2.9"/><text class="e" transform="rotate(180)" x="-148.2">OperatorSequence</text></g>
<g id="n-OperatorSwitch" transform="rotate(264.4)"><circle class="d3" cx="145" r="2.9"/><text class="e" transform="rotate(180)" x="-148.2">OperatorSwitch</text></g>
<g id="n-SortOperator" transform="rotate(265.8)"><circle class="d3" cx="145" r="2.9"/><text class="e" transform="rotate(180)" x="-148.2">SortOperator</text></g>
<g id="n-Visualization" transform="rotate(268.6)"><circle class="d2" cx="145" r="2.9"/><text class="e" transform="rotate(180)" x="-148.2">Visualization</text></g>
</g>
</g>
</g>
<g id="controls">
<text x="406" y="20.9">labels</text>
<rect x="462.6" y="15.9" width="4.8" height="4.8" rx="1" fill="#2f7cf6"/>
<path d="M463.7 18.4l1.1 1.2 1.7-2.3" fill="none" stroke="#fff" stroke-width="0.8"/>
<text x="406" y="32">radius</text>
<rect x="463" y="28.9" width="51" height="1.2" rx="0.6" fill="#c9c9c9"/>
<circle cx="486" cy="29.5" r="3.5" fill="#fff" stroke="#b0b0b0" stroke-width="0.5"/>
<text x="517.5" y="32">280</text>
<text x="406" y="43.5">extent</text>
<rect x="463" y="40.4" width="51" height="1.2" rx="0.6" fill="#c9c9c9"/>
<circle cx="510.5" cy="41" r="3.5" fill="#fff" stroke="#b0b0b0" stroke-width="0.5"/>
<text x="517.5" y="43.5">360</text>
<text x="406" y="54.7">rotate</text>
<rect x="463" y="51.6" width="51" height="1.2" rx="0.6" fill="#c9c9c9"/>
<circle cx="466.7" cy="52.2" r="3.5" fill="#fff" stroke="#b0b0b0" stroke-width="0.5"/>
<text x="517.5" y="54.7">0</text>
<text x="406" y="65.8">layout</text>
<circle cx="465.3" cy="63.3" r="3" fill="#fff" stroke="#a0a0a0" stroke-width="0.5"/>
<text x="469.2" y="65.8">tidy</text>
<circle cx="489.5" cy="63.3" r="3.2" fill="#2f7cf6"/>
<circle cx="489.5" cy="63.3" r="1.2" fill="#fff"/>
<text x="493.9" y="65.8">cluster</text>
<text x="406" y="76.5">links</text>
<rect x="461.7" y="69.5" width="46" height="9" rx="1.5" fill="#fff" stroke="#c8c8c8" stroke-width="0.5"/>
<text x="465" y="75.9" style="font-size:5.6px">line</text>
<rect x="500.6" y="70.3" width="6.3" height="7.4" rx="1.5" fill="#2f7cf6"/>
<path d="M502.4 73.1l1.35-1.3 1.35 1.3M502.4 74.9l1.35 1.3 1.35-1.3" fill="none" stroke="#fff" stroke-width="0.6"/>
</g>
</svg>
